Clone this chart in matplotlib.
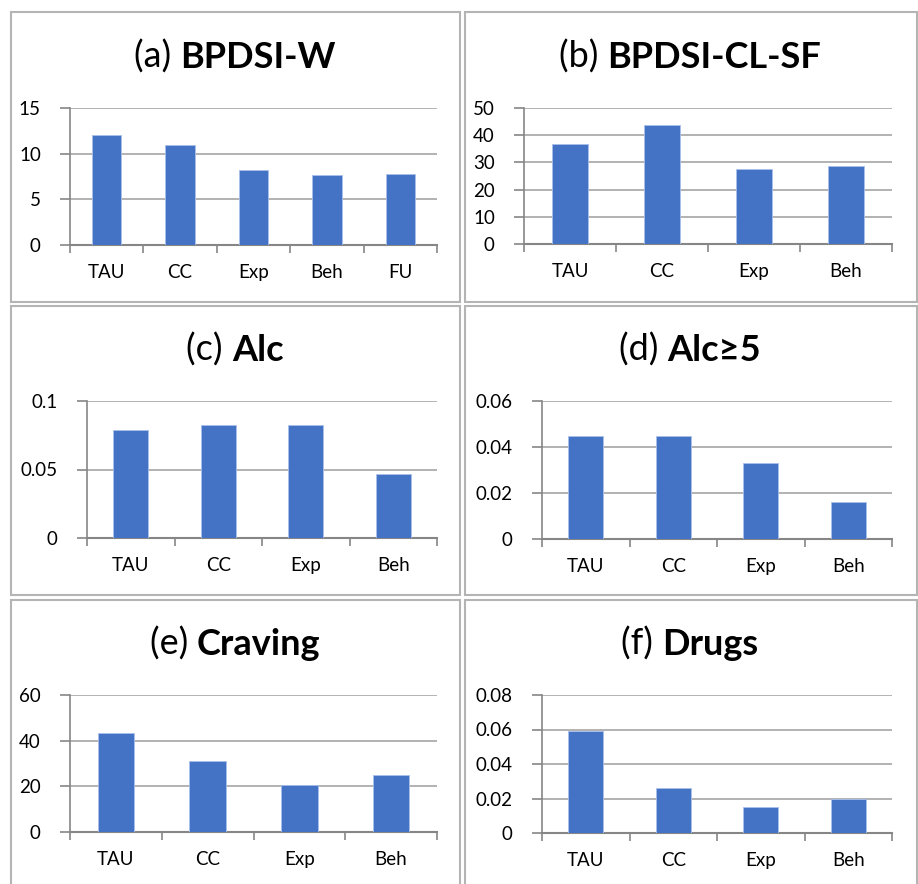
import numpy as np
import matplotlib
matplotlib.use("Agg")
from matplotlib import pyplot as plt
from matplotlib.patches import Rectangle

plt.rcParams['font.family'] = ['Lato', 'DejaVu Sans']

# data
cats_a = ["TAU", "CC", "Exp", "Beh", "FU"]
vals_a = [12.0, 10.95, 8.25, 7.7, 7.8]

cats = ["TAU", "CC", "Exp", "Beh"]
vals_b = [36.7, 43.9, 27.7, 28.5]
vals_c = [0.0786, 0.0828, 0.0828, 0.0468]
vals_d = [0.045, 0.045, 0.033, 0.016]
vals_e = [43.4, 30.9, 20.7, 24.8]
vals_f = [0.059, 0.026, 0.015, 0.020]

yticks_a = [0, 5, 10, 15]
yticks_b = [0, 10, 20, 30, 40, 50]
yticks_c = [0, 0.05, 0.1]
yticks_d = [0, 0.02, 0.04, 0.06]
yticks_e = [0, 20, 40, 60]
yticks_f = [0, 0.02, 0.04, 0.06, 0.08]

ylabels_c = ["0", "0.05", "0.1"]
ylabels_d = ["0", "0.02", "0.04", "0.06"]
ylabels_f = ["0", "0.02", "0.04", "0.06", "0.08"]

W, H = 918, 884
fig = plt.figure(figsize=(W / 100, H / 100), dpi=100)

BLUE = "#4472C4"
GRID = "#a6a6a6"
SPINE = "#868686"


def px_axes(l, r, t, b):
    return fig.add_axes([l / W, 1 - b / H, (r - l) / W, (b - t) / H])


def bar_panel(ax, labels, values, ticks, ticklabels=None):
    x = np.arange(len(labels))
    ax.bar(x, values, width=0.4, color=BLUE, edgecolor="#a9c0ea", linewidth=0.6, zorder=3)
    ax.set_xlim(-0.5, len(labels) - 0.5)
    ax.set_ylim(ticks[0], ticks[-1])
    ax.set_yticks(ticks)
    if ticklabels is not None:
        ax.set_yticklabels(ticklabels)
    ax.set_xticks(x)
    ax.set_xticklabels(labels)
    ax.set_xticks(np.arange(len(labels) + 1) - 0.5, minor=True)
    ax.tick_params(axis="x", which="major", length=0, pad=14, labelsize=13.5)
    ax.tick_params(axis="x", which="minor", length=6, width=1.2, color=SPINE, direction="out")
    ax.tick_params(axis="y", length=7, width=1.2, color=SPINE, pad=14, labelsize=13.5)
    ax.grid(axis="y", color=GRID, linewidth=1.2, zorder=0)
    ax.set_axisbelow(True)
    for s in ["top", "right"]:
        ax.spines[s].set_visible(False)
    ax.spines["left"].set_color(SPINE)
    ax.spines["bottom"].set_color(SPINE)
    ax.spines["left"].set_linewidth(1.2)
    ax.spines["bottom"].set_linewidth(1.5)


def title(cx, base, prefix, name):
    r = fig.canvas.get_renderer()
    t1 = fig.text(0, 0, prefix, fontsize=26)
    t2 = fig.text(0, 0, name, fontsize=26, fontweight="bold")
    w1 = t1.get_window_extent(r).width
    w2 = t2.get_window_extent(r).width
    x0 = cx - (w1 + w2) / 2
    t1.set_position((x0 / W, 1 - base / H))
    t2.set_position(((x0 + w1) / W, 1 - base / H))
    t1.set_va("baseline")
    t2.set_va("baseline")


# panel borders
for (l, r, t, b) in [(11, 460, 12, 302), (465, 917, 12, 302),
                     (11, 460, 306, 595), (465, 917, 306, 595),
                     (11, 460, 600, 895), (465, 917, 600, 895)]:
    fig.patches.append(Rectangle((l / W, 1 - b / H), (r - l) / W, (b - t) / H,
                                 transform=fig.transFigure, fill=False,
                                 edgecolor="#b4b4b4", linewidth=1.5))

ax = px_axes(70, 437, 108, 245)
bar_panel(ax, cats_a, vals_a, yticks_a)
ax = px_axes(524, 892, 108, 244)
bar_panel(ax, cats, vals_b, yticks_b)
ax = px_axes(87, 437, 401, 538)
bar_panel(ax, cats, vals_c, yticks_c, ylabels_c)
ax = px_axes(542, 892, 401, 539)
bar_panel(ax, cats, vals_d, yticks_d, ylabels_d)
ax = px_axes(70, 437, 695, 832)
bar_panel(ax, cats, vals_e, yticks_e)
ax = px_axes(542, 892, 695, 833)
bar_panel(ax, cats, vals_f, yticks_f, ylabels_f)

title(235, 68, "(a) ", "BPDSI-W")
title(690, 68, "(b) ", "BPDSI-CL-SF")
title(235, 361, "(c) ", "Alc")
title(690, 361, "(d) ", "Alc≥5")
title(235, 655, "(e) ", "Craving")
title(690, 655, "(f) ", "Drugs")

fig.savefig("out.png", dpi=100)
